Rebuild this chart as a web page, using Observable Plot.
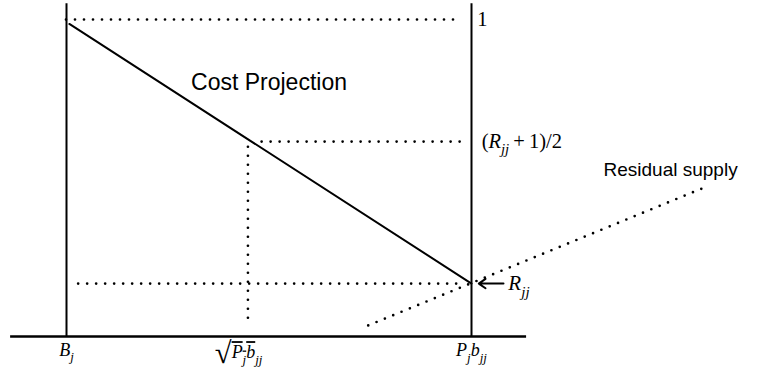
<!DOCTYPE html>
<html><head><meta charset="utf-8">
<script src="https://cdn.jsdelivr.net/npm/d3@7"></script>
<script src="https://cdn.jsdelivr.net/npm/@observablehq/plot@0.6"></script>
<style>body{margin:0;background:#fff}</style>
</head><body><div id="chart"></div>
<script>
// ---- data (schematic units: B_j = 0, P_j b_jj = 1 on x; baseline = 0, "1" = 1 on y)
const xTickValues = [0, 0.448, 1];
const xTickLabels = ["B_{j}", "\\sqrt{P_{j}}\\bar{b}_{jj}", "P_{j}b_{jj}"];
const xTickLabelX = [0, 0.425, 1];
const xTickLabelY = [-0.042, -0.05, -0.044];
const yLevelValues = [1, 0.615, 0.167];
const yLevelLabels = ["1", "(R_{jj} + 1)/2", "R_{jj}"];
const yLevelLabelX = [1.014, 1.025, 1.091];
const guideStartX = [0, 0.483, 0.03];
const guideEndX = [0.96, 0.985, 0.985];
const midVerticalY = [0.597, 0.037];
const costX = [0.007, 1];
const costY = [0.986, 0.167];
const supplyX = [0.745, 1.575];
const supplyY = [0.035, 0.47];
const curveNames = ["Cost Projection", "Residual supply"];
const curveLabelX = [0.5, 1.326];
const curveLabelY = [0.80, 0.524];
const frameX = [-0.138, 1.136];
const frameTop = 1.05;
const arrowX = [1.079, 1.018];

const dotted = {strokeDasharray: "0 9", strokeLinecap: "round", strokeWidth: 2.7, stroke: "black"};

const guides = yLevelValues.map((v, i) => ({v, x1: guideStartX[i], x2: guideEndX[i]}));
const cost = costX.map((x, i) => ({x, y: costY[i]}));
const supply = supplyX.map((x, i) => ({x, y: supplyY[i]}));
const xlab = xTickLabels.map((t, i) => ({t, x: xTickLabelX[i], y: xTickLabelY[i]}));
const ylab = yLevelLabels.map((t, i) => ({t, x: yLevelLabelX[i], y: yLevelValues[i]}));
const clab = curveNames.map((t, i) => ({t, x: curveLabelX[i], y: curveLabelY[i]}));

const serif = "Liberation Serif, Times New Roman, serif";
const sans = "Liberation Sans, Helvetica, Arial, sans-serif";

const chart = Plot.plot({
  width: 773, height: 380,
  marginLeft: 66, marginRight: 302, marginTop: 19, marginBottom: 44,
  x: {domain: [0, 1], axis: null},
  y: {domain: [0, 1], axis: null},
  style: {background: "white", overflow: "visible"},
  marks: [
    Plot.ruleY([0], {x1: frameX[0], x2: frameX[1], strokeWidth: 2.5}),
    Plot.ruleX([xTickValues[0], xTickValues[2]], {y1: 0, y2: frameTop, strokeWidth: 2}),
    Plot.ruleY(guides, {y: "v", x1: "x1", x2: "x2", ...dotted}),
    Plot.ruleX([xTickValues[1]], {y1: midVerticalY[0], y2: midVerticalY[1], ...dotted}),
    Plot.line(supply, {x: "x", y: "y", ...dotted}),
    Plot.line(cost, {x: "x", y: "y", strokeWidth: 2}),
    Plot.arrow([{x1: arrowX[0], x2: arrowX[1], y: yLevelValues[2]}], {x1: "x1", x2: "x2", y1: "y", y2: "y", strokeWidth: 2, headLength: 9, headAngle: 70}),
    Plot.text(xlab, {x: "x", y: "y", text: "t", fontFamily: serif, fontSize: 18, textAnchor: "middle"}),
    Plot.text(ylab.slice(0, 2), {x: "x", y: "y", text: "t", fontFamily: serif, fontSize: 20.5, textAnchor: "start"}),
    Plot.text(ylab.slice(2), {x: "x", y: "y", text: "t", fontFamily: serif, fontSize: 21, textAnchor: "start"}),
    Plot.text(clab.slice(0, 1), {x: "x", y: "y", text: "t", fontFamily: sans, fontSize: 23, textAnchor: "middle"}),
    Plot.text(clab.slice(1), {x: "x", y: "y", text: "t", fontFamily: sans, fontSize: 19, textAnchor: "start"})
  ]
});
document.getElementById("chart").appendChild(chart);

// ---- render the math labels as tspans (italic letters, subscripts, sqrt, bar)
const NS = "http://www.w3.org/2000/svg";
function readGroup(s, i) { // s[i] === "{"
  let depth = 0, j = i;
  for (; j < s.length; j++) {
    if (s[j] === "{") depth++;
    else if (s[j] === "}") { depth--; if (depth === 0) break; }
  }
  return [s.slice(i + 1, j), j + 1];
}
function renderMath(el, src, fs) {
  el.textContent = "";
  let pending = 0;
  const sub = 0.3 * fs;
  function add(parent, text, o = {}) {
    const t = document.createElementNS(NS, "tspan");
    t.textContent = text;
    if (o.italic) t.setAttribute("font-style", "italic");
    if (o.size) t.setAttribute("font-size", o.size);
    if (o.deco) { t.setAttribute("text-decoration", o.deco); t.style.textDecoration = o.deco; }
    let dy = (o.dy || 0) + pending; pending = 0;
    if (dy) t.setAttribute("dy", dy);
    if (o.after) pending = o.after;
    parent.appendChild(t);
    return t;
  }
  function parse(s, parent) {
    let i = 0;
    while (i < s.length) {
      if (s.startsWith("\\sqrt{", i)) {
        const [inner, j] = readGroup(s, i + 5); i = j;
        add(parent, "\u221A", {size: 1.7 * fs, dy: 0.25 * fs, after: -0.25 * fs});
        const w = document.createElementNS(NS, "tspan");
        w.setAttribute("text-decoration", "overline");
        w.style.textDecoration = "overline";
        parent.appendChild(w);
        parse(inner, w);
      } else if (s.startsWith("\\bar{", i)) {
        const [inner, j] = readGroup(s, i + 4); i = j;
        add(parent, inner, {italic: true, deco: "overline"});
      } else if (s.startsWith("_{", i)) {
        const [inner, j] = readGroup(s, i + 1); i = j;
        add(parent, inner, {italic: true, size: 0.72 * fs, dy: sub, after: -sub});
      } else {
        const letter = /[A-Za-z]/.test(s[i]);
        let j = i;
        while (j < s.length && !"\\_".includes(s[j]) && /[A-Za-z]/.test(s[j]) === letter) j++;
        let txt = s.slice(i, j);
        if (!letter) txt = txt.replace(/ \+ /g, "\u2009+\u2009");
        add(parent, txt.replace(/ /g, "\u2002"), {italic: letter});
        i = j;
      }
    }
  }
  parse(src, el);
}
const mathLabels = [...xTickLabels, ...yLevelLabels];
d3.select(chart).selectAll("text").each(function () {
  const s = this.textContent;
  if (mathLabels.includes(s)) {
    const fs = parseFloat(getComputedStyle(this).fontSize) || 17;
    renderMath(this, s, fs);
  }
});
</script></body></html>
